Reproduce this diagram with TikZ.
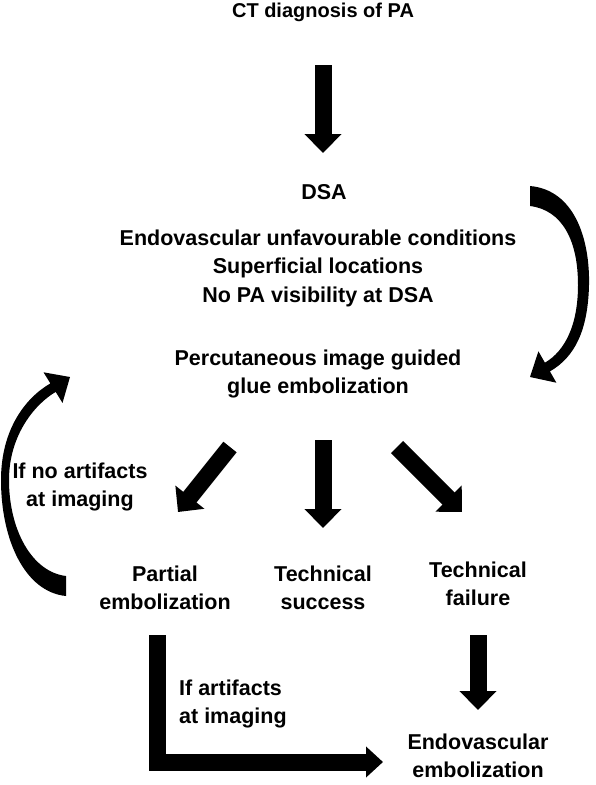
\documentclass[tikz,border=0pt]{standalone}
\usepackage{fontspec}
\setmainfont{Liberation Sans}
\usetikzlibrary{arrows.meta}

\begin{document}
\begin{tikzpicture}[x=1pt, y=-1pt,
  lbl/.style={font=\fontsize{21.5}{28.5}\selectfont\bfseries, align=center, inner sep=0pt},
  blockarrow/.style={line width=17pt, -{Triangle[length=19pt,width=36pt]}}]
  \useasboundingbox (0,0) rectangle (595,785);

  % curved arrows
  \fill (530,186) .. controls (575,190) and (590,240) .. (589,285)
    .. controls (588,330) and (575,357) .. (549.9,371.4)
    -- (556.4,382.7) -- (530,377) -- (538.4,351.3) -- (544.9,362.7)
    .. controls (565,351) and (578,325) .. (578,285)
    .. controls (578,240) and (562,210) .. (530,206) -- cycle;
  \fill (66,596) .. controls (25,592) and (1,540) .. (1,480)
    .. controls (1,430) and (25,398) .. (50.4,383.4)
    -- (43.5,372.3) -- (70,377) -- (62.5,402.9) -- (55.7,391.9)
    .. controls (35,404) and (9,435) .. (9,480)
    .. controls (9,530) and (32,572) .. (66,576) -- cycle;

  \node[lbl, font=\fontsize{20}{24}\selectfont\bfseries] (ct) at (323,12) {CT diagnosis of PA};
  \node[lbl] (dsa) at (324,192) {DSA};
  \node[lbl] (conds) at (318,268) {Endovascular unfavourable conditions\\
    Superficial locations\\No PA visibility at DSA};
  \node[lbl] (perc) at (318,374) {Percutaneous image guided\\glue embolization};
  \node[lbl] (noart) at (80,487) {If no artifacts\\at imaging};
  \node[lbl] (partial) at (165,588) {Partial\\embolization};
  \node[lbl] (success) at (323,588) {Technical\\success};
  \node[lbl] (failure) at (478,584) {Technical\\failure};
  \node[lbl, anchor=west, align=left] (art) at (179,704) {If artifacts\\at imaging};
  \node[lbl] (endo) at (478,756) {Endovascular\\embolization};

  % arrow ends
  \coordinate (a1s) at (323,65);  \coordinate (a1e) at (323,153);
  \coordinate (a2s) at (230,447); \coordinate (a2e) at (178,512);
  \coordinate (a3s) at (323,440); \coordinate (a3e) at (323,528);
  \coordinate (a4s) at (397,447); \coordinate (a4e) at (462,512);
  \coordinate (a5s) at (478,635); \coordinate (a5e) at (478,710);
  \coordinate (lbs) at (157,635); \coordinate (lbe) at (383,762);

  \draw[blockarrow] (a1s) -- (a1e);
  \draw[blockarrow] (a2s) -- (a2e);
  \draw[blockarrow] (a3s) -- (a3e);
  \draw[blockarrow] (a4s) -- (a4e);
  \draw[blockarrow] (a5s) -- (a5e);
  \draw[line width=17pt, line join=miter, -{Triangle[length=17pt,width=30pt]}]
    (lbs) |- (lbe);
\end{tikzpicture}
\end{document}
